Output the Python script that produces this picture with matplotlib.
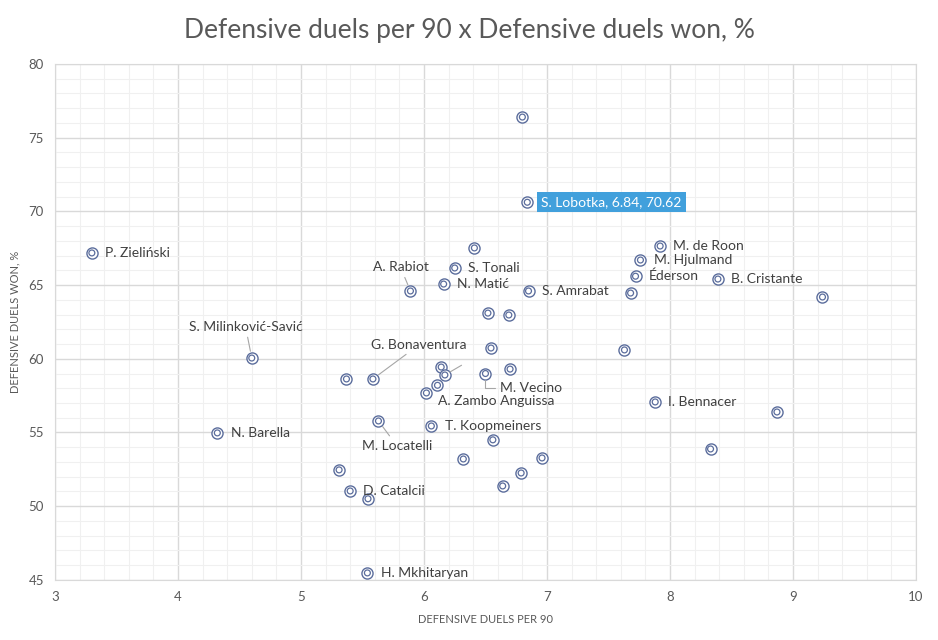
import matplotlib.pyplot as plt
from matplotlib.ticker import MultipleLocator

plt.rcParams['font.family'] = ['Lato', 'DejaVu Sans']

# players, duels per 90, duels won %
players = ["", "S. Lobotka", "P. Zieliński", "", "S. Tonali", "A. Rabiot", "N. Matić",
           "S. Amrabat", "M. de Roon", "M. Hjulmand", "Éderson", "", "B. Cristante", "",
           "", "", "S. Milinković-Savić", "G. Bonaventura", "", "", "", "", "A. Zambo Anguissa",
           "", "M. Vecino", "", "", "M. Locatelli", "T. Koopmeiners", "N. Barella",
           "I. Bennacer", "", "", "", "", "", "", "", "", "D. Catalcii", "", "H. Mkhitaryan"]
duels_p90 = [6.80, 6.84, 3.30, 6.41, 6.25, 5.89, 6.16,
             6.85, 7.92, 7.76, 7.72, 7.68, 8.39, 9.24,
             6.52, 6.69, 4.60, 5.585, 5.37, 6.545, 7.63, 6.14, 6.17,
             6.70, 6.50, 6.11, 6.02, 5.63, 6.06, 4.32,
             7.88, 8.87, 8.33, 6.56, 6.32, 6.96, 6.79, 6.64, 5.31, 5.40, 5.545, 5.54]
duels_won = [76.40, 70.62, 67.18, 67.52, 66.16, 64.60, 65.07,
             64.60, 67.65, 66.70, 65.60, 64.46, 65.41, 64.19,
             63.10, 62.97, 60.05, 58.63, 58.63, 60.73, 60.60, 59.44, 58.90,
             59.30, 59.00, 58.20, 57.68, 55.78, 55.44, 54.97,
             57.07, 56.39, 53.88, 54.50, 53.20, 53.27, 52.25, 51.37, 52.46, 51.03, 50.50, 45.47]

# labels that sit away from their point (data coords of text)
moved = {
    "A. Rabiot": (5.81, 66.2),
    "S. Milinković-Savić": (4.55, 62.15),
    "G. Bonaventura": (5.96, 60.95),
    "M. Locatelli": (5.78, 54.1),
}

mark = "#5b6d9c"
txt = "#404040"
lfs = 10

fig = plt.figure(figsize=(9.38, 6.4), dpi=100)
ax = fig.add_axes([0.0586, 0.094, 0.9179, 0.806])

ax.scatter(duels_p90, duels_won, s=64, facecolors="white", edgecolors=mark, linewidths=1.0, zorder=3)
ax.scatter(duels_p90, duels_won, s=18, facecolors="none", edgecolors=mark, linewidths=0.9, zorder=4)

for name, x, y in zip(players, duels_p90, duels_won):
    if name == "":
        continue
    if name == "S. Lobotka":
        ax.annotate(f"{name}, {x:.2f}, {y:.2f}", (x, y), xytext=(10, 0), textcoords="offset points",
                    ha="left", va="center", fontsize=lfs, color="white",
                    bbox=dict(boxstyle="square,pad=0.3", fc="#41a0dc", ec="none"), zorder=5)
    elif name in moved:
        ax.annotate(name, (x, y), xytext=moved[name], ha="center", va="center", fontsize=lfs, color=txt,
                    arrowprops=dict(arrowstyle="-", color="#a6a6a6", lw=0.8, shrinkA=1, shrinkB=5), zorder=5)
    elif name == "M. Vecino":
        ax.annotate(name, (x, y), xytext=(6.62, 58.05), ha="left", va="center", fontsize=lfs, color=txt,
                    arrowprops=dict(arrowstyle="-", color="#a6a6a6", lw=0.8, shrinkA=2, shrinkB=5,
                                    connectionstyle="angle,angleA=0,angleB=90,rad=0"), zorder=5)
    elif name == "A. Zambo Anguissa":
        ax.annotate("", (x, y), xytext=(12, 7), textcoords="offset points",
                    arrowprops=dict(arrowstyle="-", color="#a6a6a6", lw=0.8, shrinkA=0, shrinkB=4))
        ax.annotate(name, (x, y), xytext=(6.59, 57.15), ha="center", va="center", fontsize=lfs, color=txt, zorder=5)
    else:
        ax.annotate(name, (x, y), xytext=(9.5, 0), textcoords="offset points",
                    ha="left", va="center", fontsize=lfs, color=txt, zorder=5)

ax.set_xlim(3, 10)
ax.set_ylim(45, 80)
ax.xaxis.set_major_locator(MultipleLocator(1))
ax.xaxis.set_minor_locator(MultipleLocator(0.2))
ax.yaxis.set_major_locator(MultipleLocator(5))
ax.yaxis.set_minor_locator(MultipleLocator(1))
ax.grid(which="major", color="#d9d9d9", lw=1.0)
ax.grid(which="minor", color="#f0f0f0", lw=0.8)
ax.set_axisbelow(True)
for s in ax.spines.values():
    s.set_color("#d9d9d9")
ax.tick_params(which="both", length=0, labelsize=9.5, labelcolor="#595959", pad=8)

ax.set_xlabel("DEFENSIVE DUELS PER 90", fontsize=8, color="#595959", labelpad=8)
ax.set_ylabel("DEFENSIVE DUELS WON, %", fontsize=8, color="#595959", labelpad=6)
fig.suptitle("Defensive duels per 90 x Defensive duels won, %", y=0.972, fontsize=19,
             color="#595959")

fig.savefig("out.png", dpi=100, facecolor="white")
